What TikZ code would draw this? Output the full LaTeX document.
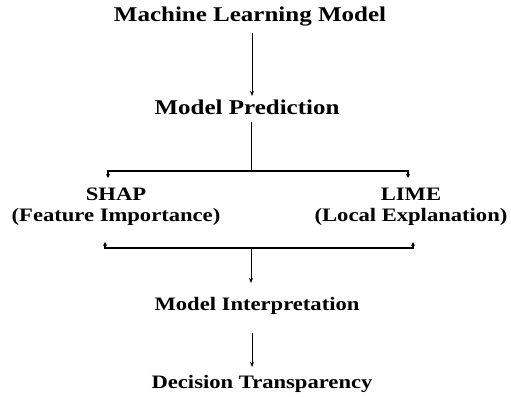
\documentclass[tikz,border=0pt]{standalone}
\usepackage{fontspec}
\setmainfont{Liberation Serif}
\usepackage{tikz}
\usetikzlibrary{arrows.meta}

\begin{document}
\begin{tikzpicture}[x=1pt,y=-1pt,
  head/.style={font=\bfseries\fontsize{21}{24}\selectfont,xscale=1.19,transform shape,inner sep=0pt},
  item/.style={font=\bfseries\fontsize{19}{21}\selectfont,xscale=1.19,transform shape,inner sep=0pt,align=center},
  arr/.style={-{Stealth[length=5pt,width=4pt]},line width=0.9pt},
  bar/.style={line width=1.8pt,{Stealth[length=4pt,width=4pt]}-{Stealth[length=4pt,width=4pt]}}
]
\useasboundingbox (0,0) rectangle (511,396);
\node[head] (mlm) at (250,17) {Machine Learning Model};
\node[head] (mp) at (247,107) {Model Prediction};
\node[item] (shap) at (116,207) {SHAP\\(Feature Importance)};
\node[item] (lime) at (411,207) {LIME\\(Local Explanation)};
\node[item] (mi) at (257,306) {Model Interpretation};
\node[item] (dt) at (262,384) {Decision Transparency};
% fork and join points
\coordinate (fork) at (251,171);
\coordinate (sl) at (108,178);
\coordinate (sr) at (408,178);
\coordinate (join) at (251,248);
\coordinate (bl) at (105,242);
\coordinate (br) at (413,242);
\draw[arr,shorten <=16pt,shorten >=11pt] ([xshift=2pt]mlm.center) -- ([xshift=5pt]mp.center);
\draw[line width=0.9pt,shorten <=15pt] ([xshift=4pt]mp.center) -- (fork);
\draw[bar] (sl) -- (sl |- fork) -- (fork -| sr) -- (sr);
\draw[bar] (bl) -- (bl |- join) -- (join -| br) -- (br);
\draw[arr,shorten >=23pt] (join) -- (join |- mi.center);
\draw[arr,shorten <=27pt,shorten >=17pt] ([xshift=-5pt]mi.center) -- ([xshift=-10pt]dt.center);
\end{tikzpicture}
\end{document}
